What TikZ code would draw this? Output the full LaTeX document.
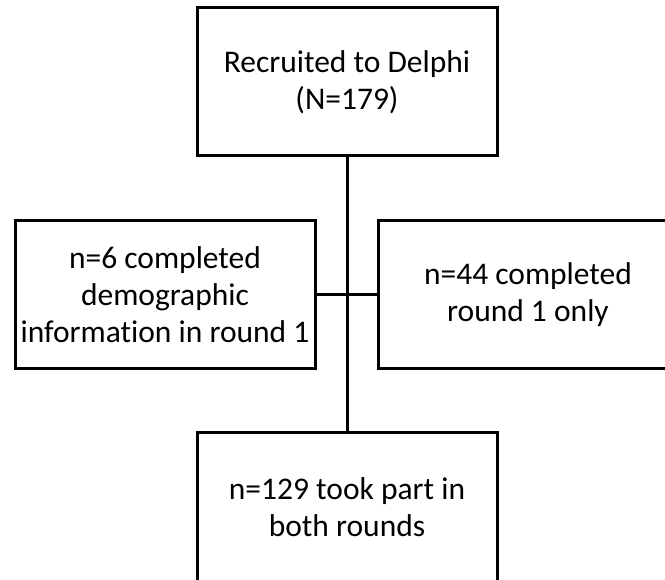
\documentclass[tikz,border=0pt]{standalone}
\usepackage{fontspec}
\setmainfont{Carlito}[Ligatures={NoCommon,NoRare,NoContextual}]
\begin{document}
\begin{tikzpicture}[x=1pt,y=-1pt,
  box/.style={draw=black,line width=3pt,align=center,font=\fontsize{31.5}{37}\selectfont,inner sep=0pt},
  link/.style={draw=black,line width=3pt}]
\useasboundingbox (0,0) rectangle (665,580);
\clip (0,0) rectangle (665,580);
\fill[white] (0,0) rectangle (665,580);
\node[box,minimum width=300pt,minimum height=148pt] (top) at (347,82) {Recruited to Delphi\\(N=179)};
\node[box,minimum width=300pt,minimum height=148pt] (left) at (165,295) {n=6 completed\\demographic\\information in round 1};
\node[box,minimum width=300pt,minimum height=148pt] (right) at (528,295) {n=44 completed\\round 1 only};
\node[box,minimum width=300pt,minimum height=148pt] (bottom) at (347,507) {n=129 took part in\\both rounds};
\draw[link] (top.south) -- (bottom.north);
\draw[link] (left.east) -- (right.west);
\end{tikzpicture}
\end{document}
